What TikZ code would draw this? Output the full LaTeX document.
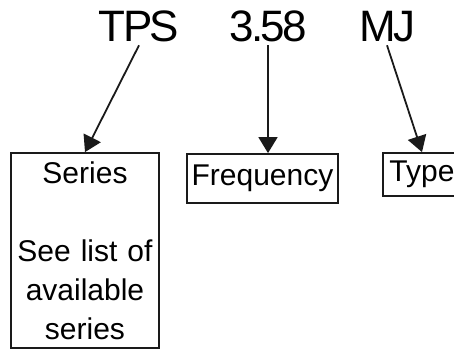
\documentclass[tikz,border=0pt]{standalone}
\usepackage{fontspec}
\setmainfont{Liberation Sans}
\newfontfamily\codefont[LetterSpace=-6]{Liberation Sans}
\usetikzlibrary{arrows.meta,positioning}
\definecolor{ink}{HTML}{1A1A1A}

\begin{document}
\begin{tikzpicture}[x=1pt,y=-1pt,>={Triangle[length=16pt,width=19pt]},line width=1.8pt,
  code/.style={font=\codefont\fontsize{44}{44}\selectfont,inner sep=2pt,anchor=base},
  fieldbox/.style={draw=ink,inner sep=0pt,align=center,font=\fontsize{30}{39}\selectfont}]
\useasboundingbox (0,0) rectangle (454,350);

% ---------- the part number ----------
\node[code] (tps)   at (139,42) {TPS};
\node[code] (freqv) at (268,42) {3.58};
\node[code] (typev) at (387,42) {MJ};

% ---------- what each field means ----------
\node[fieldbox,text width=148pt,minimum height=195pt] (series) at (85,250.5)
  {Series\\[39pt]See list of\\available\\series};
\node[fieldbox,minimum width=151pt,minimum height=49pt] (freq) at (262.5,178.5) {Frequency};
\node[fieldbox,minimum width=78pt,minimum height=43pt] (type) at (422,174.5) {Type};

\draw[->,ink] (tps.south) -- (series.north);
\draw[->,ink] (freqv.south) -- (freqv.south |- freq.north);
\draw[->,ink] (typev.south) -- (type.north);
\end{tikzpicture}
\end{document}
